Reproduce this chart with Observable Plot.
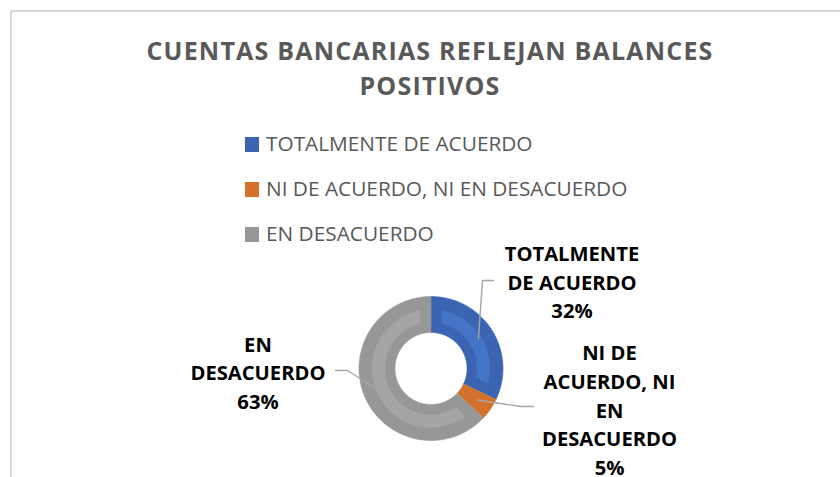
<!DOCTYPE html>
<html>
<head>
<meta charset="utf-8">
<script src="https://cdn.jsdelivr.net/npm/d3@7"></script>
<script src="https://cdn.jsdelivr.net/npm/@observablehq/plot@0.6"></script>
<style>
  html, body { margin: 0; padding: 0; background: #fff; }
  #root { position: relative; width: 840px; height: 477px; overflow: hidden; font-family: "Open Sans", sans-serif; }
  #frame { position: absolute; left: 10px; top: 10px; width: 900px; height: 520px;
           border-top: 2px solid #d9d9d9; border-left: 2px solid #d9d9d9; box-sizing: border-box; }
  .title { position: absolute; left: 30px; width: 800px; text-align: center; font-weight: 700;
           font-size: 25px; line-height: 1; color: #595959; white-space: nowrap; letter-spacing: 1.2px; }
  .lg-sq { position: absolute; left: 245px; width: 14px; height: 15px; }
  .lg-tx { position: absolute; left: 266px; font-size: 20.8px; line-height: 1; color: #595959; white-space: nowrap; }
  #chart { position: absolute; left: 0; top: 240px; }
</style>
</head>
<body>
<div id="root">
  <div id="frame"></div>
  <div id="t1" class="title">CUENTAS BANCARIAS REFLEJAN BALANCES</div>
  <div id="t2" class="title">POSITIVOS</div>
  <div id="legend"></div>
  <div id="chart"></div>
</div>
<script>
// ---- data ----
const categories = ["TOTALMENTE DE ACUERDO", "NI DE ACUERDO, NI EN DESACUERDO", "EN DESACUERDO"];
const values = [32, 5, 63];
const labelLines = [["TOTALMENTE", "DE ACUERDO"], ["NI DE", "ACUERDO, NI", "EN", "DESACUERDO"], ["EN", "DESACUERDO"]];
const edgeColors = ["#3b65b3", "#d4712c", "#979797"];
const faceColors = ["#4574c6", "#e07b31", "#a5a5a5"];

// ---- layout (radius units, relative to the donut centre) ----
const labelLayout = [
  {elbow: [0.715, 1.222], end: [0.868, 1.222], text: [1.958, 1.222]},
  {elbow: [1.243, -0.528], end: [1.424, -0.528], text: [2.479, -0.556]},
  {elbow: [-1.16, -0.028], end: [-1.326, -0.028], text: [-2.403, -0.035]}
];

const W = 840, H = 237, CX = 430.5, CY = 128, R = 72;
const HOLE = 0.5, FACE_OUT = 0.82, FACE_IN = 0.64, INSET = 0.15, LEADER_R = 0.78;
const LABEL_SIZE = 20.2;

// title positions (cap centre)
function placeCap(el, yCenter, fontSize) { el.style.top = (yCenter - 0.531 * fontSize) + "px"; }
placeCap(document.getElementById("t1"), 51, 25);
placeCap(document.getElementById("t2"), 86, 25);

// legend
const legend = document.getElementById("legend");
const legendY = [144.3, 189.3, 234.3];
categories.forEach((c, i) => {
  const sq = document.createElement("div");
  sq.className = "lg-sq";
  sq.style.background = edgeColors[i];
  sq.style.top = (legendY[i] - 7.3) + "px";
  legend.appendChild(sq);
  const tx = document.createElement("div");
  tx.className = "lg-tx";
  tx.textContent = c;
  placeCap(tx, legendY[i], 20.8);
  legend.appendChild(tx);
});

// ---- geometry from data ----
const rows = categories.map((c, i) => ({category: c, value: values[i], index: i}));
const total = d3.sum(values);
const arcs = d3.pie().sort(null).value(d => d.value)(rows);

function ringPoly(cat, a0, a1, r0, r1, inset) {
  const o0 = a0 + Math.asin(Math.min(1, inset / r1)), o1 = a1 - Math.asin(Math.min(1, inset / r1));
  const i0 = a0 + Math.asin(Math.min(1, inset / r0)), i1 = a1 - Math.asin(Math.min(1, inset / r0));
  if (o1 <= o0 || i1 <= i0) return [];
  const pts = [];
  const n1 = Math.max(2, Math.ceil((o1 - o0) / 0.01));
  for (let k = 0; k <= n1; k++) { const a = o0 + (o1 - o0) * k / n1; pts.push({category: cat, x: r1 * Math.sin(a), y: r1 * Math.cos(a)}); }
  const n0 = Math.max(2, Math.ceil((i1 - i0) / 0.01));
  for (let k = 0; k <= n0; k++) { const a = i1 - (i1 - i0) * k / n0; pts.push({category: cat, x: r0 * Math.sin(a), y: r0 * Math.cos(a)}); }
  return pts;
}

const slicePts = arcs.flatMap(a => ringPoly(a.data.category, a.startAngle, a.endAngle, HOLE, 1, 0));
const facePts = arcs.map(a => ringPoly(a.data.category, a.startAngle, a.endAngle, FACE_IN, FACE_OUT, INSET));

const leaderPts = arcs.flatMap((a, i) => {
  const m = (a.startAngle + a.endAngle) / 2;
  const L = labelLayout[i];
  return [
    {category: a.data.category, x: LEADER_R * Math.sin(m), y: LEADER_R * Math.cos(m)},
    {category: a.data.category, x: L.elbow[0], y: L.elbow[1]},
    {category: a.data.category, x: L.end[0], y: L.end[1]}
  ];
});

const labels = arcs.map((a, i) => ({
  category: a.data.category,
  x: labelLayout[i].text[0],
  y: labelLayout[i].text[1],
  text: [...labelLines[i], Math.round(a.data.value / total * 100) + "%"].join("\n")
}));

const plot = Plot.plot({
  width: W, height: H,
  margin: 0,
  style: {background: "transparent", overflow: "visible"},
  x: {domain: [-CX / R, (W - CX) / R], axis: null},
  y: {domain: [-(H - CY) / R, CY / R], axis: null},
  color: {domain: categories, range: edgeColors},
  marks: [
    Plot.line(slicePts, {x: "x", y: "y", z: "category", fill: "category", stroke: "category", strokeWidth: 0.6}),
    ...facePts.map((pts, i) => Plot.line(pts, {x: "x", y: "y", fill: faceColors[i], stroke: "none"})),
    Plot.line(leaderPts, {x: "x", y: "y", z: "category", stroke: "#a6a6a6", strokeWidth: 1.4}),
    Plot.text(labels, {x: "x", y: "y", text: "text", fontFamily: "Open Sans", fontWeight: 700, fontSize: LABEL_SIZE,
                       lineHeight: 28.7 / LABEL_SIZE, fill: "#000", textAnchor: "middle"})
  ]
});
document.getElementById("chart").appendChild(plot);
</script>
</body>
</html>
